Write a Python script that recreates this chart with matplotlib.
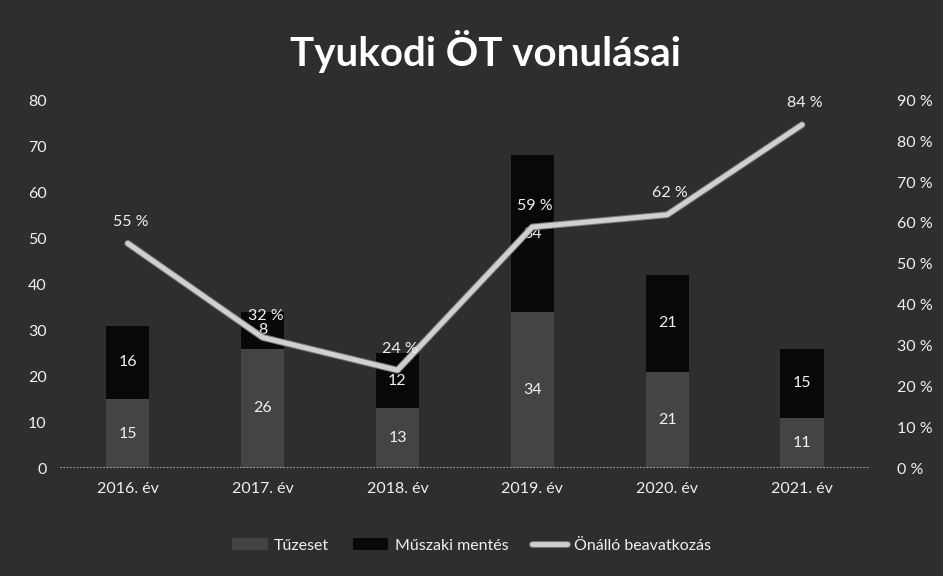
import numpy as np
import matplotlib
matplotlib.use("Agg")
from matplotlib import pyplot as plt
import matplotlib.patheffects as pe

plt.rcParams['font.family'] = ['Lato', 'DejaVu Sans']

years = ['2016. év', '2017. év', '2018. év', '2019. év', '2020. év', '2021. év']
tuzeset = [15, 26, 13, 34, 21, 11]
muszaki = [16, 8, 12, 34, 21, 15]
onallo = [55, 32, 24, 59, 62, 84]

bg = '#2e2e2e'
fg = '#f0f0f0'

fig = plt.figure(figsize=(9.43, 5.76), dpi=100, facecolor=bg)
ax = fig.add_axes([0.064, 0.187, 0.858, 0.639], facecolor=bg)
ax2 = ax.twinx()

x = np.arange(len(years))
w = 0.32
b1 = ax.bar(x, tuzeset, w, color='#444444', label='Tűzeset')
b2 = ax.bar(x, muszaki, w, bottom=tuzeset, color='#080808', label='Műszaki mentés')

for i in range(len(years)):
    ax.text(x[i], tuzeset[i] / 2, str(tuzeset[i]), ha='center', va='center',
            color=fg, fontsize=11.5)
    ax.text(x[i], tuzeset[i] + muszaki[i] / 2, str(muszaki[i]), ha='center',
            va='center', color=fg, fontsize=11.5)

ln, = ax2.plot(x, onallo, color='#d0d0d0', lw=3.5, solid_capstyle='round',
               path_effects=[pe.Stroke(linewidth=5, foreground='#777777'), pe.Normal()],
               label='Önálló beavatkozás')
for i, v in enumerate(onallo):
    ax2.text(x[i] + 0.02, v + 3.5, f'{v} %', ha='center', va='bottom', color=fg,
             fontsize=11.5)

ax.set_xlim(-0.5, len(years) - 0.5)
ax.set_ylim(0, 80)
ax.set_yticks(range(0, 81, 10))
ax2.set_ylim(0, 90)
ax2.set_yticks(range(0, 91, 10))
ax2.set_yticklabels([f'{t} %' for t in range(0, 91, 10)])

ax.set_xticks(x)
ax.set_xticklabels(years)

for a in (ax, ax2):
    for s in a.spines.values():
        s.set_visible(False)
    a.tick_params(length=0, colors=fg, labelsize=11.5)
ax.tick_params(axis='x', pad=10)
ax.tick_params(axis='y', pad=10)
ax2.tick_params(axis='y', pad=20)
ax.axhline(0, color='#bbbbbb', lw=1.2, ls=(0, (1, 1)))

fig.text(0.515, 0.91, 'Tyukodi ÖT vonulásai', ha='center', va='center',
         color='white', fontsize=29, fontweight='bold')

fig.legend(handles=[b1, b2, ln], loc='center', bbox_to_anchor=(0.5, 0.053),
           ncol=3, frameon=False, labelcolor=fg, fontsize=11.5,
           handlelength=2.2, handletextpad=0.4, columnspacing=1.5)

plt.savefig('out.png', dpi=100, facecolor=bg)
